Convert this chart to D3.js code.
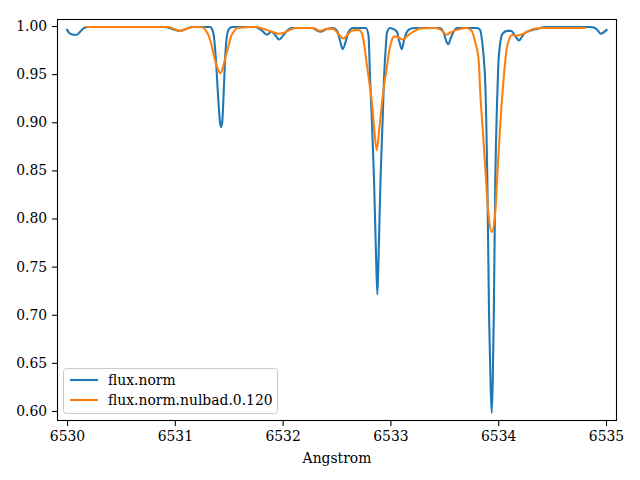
<!DOCTYPE html>
<html><head><meta charset="utf-8">
<script src="https://cdn.jsdelivr.net/npm/d3@7"></script>
<style>body{margin:0;background:#fff}svg{display:block}text{font-family:"DejaVu Serif",serif}</style>
</head><body><svg id="c" width="640" height="480"></svg>
<script>
const seriesNames = ["flux.norm", "flux.norm.nulbad.0.120"];
const xTicks = [6530, 6531, 6532, 6533, 6534, 6535];
const yTicks = [0.60, 0.65, 0.70, 0.75, 0.80, 0.85, 0.90, 0.95, 1.00];
const xLabel = "Angstrom";

const blueWave = [6530.000,6530.028,6530.056,6530.093,6530.121,6530.158,6530.195,6530.306,6530.584,6530.909,6530.974,6531.048,6531.104,6531.160,6531.327,6531.345,6531.364,6531.383,6531.401,6531.420,6531.429,6531.439,6531.453,6531.466,6531.484,6531.503,6531.531,6531.744,6531.800,6531.855,6531.897,6531.929,6531.967,6532.004,6532.041,6532.078,6532.273,6532.347,6532.412,6532.468,6532.505,6532.532,6532.557,6532.583,6532.611,6532.653,6532.773,6532.797,6532.811,6532.829,6532.848,6532.867,6532.879,6532.890,6532.908,6532.927,6532.941,6532.955,6532.968,6532.996,6533.024,6533.061,6533.085,6533.105,6533.126,6533.149,6533.182,6533.228,6533.460,6533.497,6533.516,6533.537,6533.558,6533.581,6533.618,6533.804,6533.832,6533.850,6533.869,6533.878,6533.899,6533.915,6533.929,6533.940,6533.949,6533.959,6533.973,6533.989,6534.001,6534.017,6534.032,6534.049,6534.082,6534.119,6534.156,6534.193,6534.221,6534.249,6534.295,6534.360,6534.434,6534.852,6534.898,6534.926,6534.951,6534.972,6535.006];
const blueFlux = [0.996,0.992,0.991,0.991,0.994,0.998,0.999,0.999,0.999,0.999,0.997,0.995,0.997,0.999,0.999,0.997,0.988,0.962,0.928,0.899,0.895,0.899,0.930,0.965,0.990,0.997,0.999,0.999,0.996,0.991,0.994,0.991,0.986,0.990,0.995,0.998,0.998,0.994,0.997,0.998,0.995,0.985,0.976,0.983,0.994,0.998,0.998,0.990,0.946,0.900,0.840,0.760,0.721,0.760,0.840,0.900,0.946,0.975,0.993,0.998,0.997,0.994,0.983,0.976,0.985,0.993,0.997,0.998,0.998,0.992,0.985,0.981,0.987,0.993,0.998,0.998,0.996,0.985,0.962,0.946,0.840,0.700,0.630,0.598,0.630,0.700,0.840,0.920,0.960,0.981,0.990,0.993,0.995,0.995,0.990,0.985,0.989,0.993,0.995,0.997,0.999,0.999,0.998,0.995,0.992,0.993,0.996];

const orangeWave = [6530.186,6530.492,6530.937,6530.993,6531.048,6531.104,6531.178,6531.234,6531.268,6531.289,6531.314,6531.336,6531.361,6531.387,6531.422,6531.447,6531.468,6531.500,6531.521,6531.546,6531.577,6531.753,6531.852,6531.902,6531.957,6532.013,6532.069,6532.124,6532.282,6532.347,6532.412,6532.468,6532.514,6532.563,6532.602,6532.641,6532.702,6532.734,6532.755,6532.780,6532.804,6532.828,6532.848,6532.873,6532.894,6532.920,6532.941,6532.966,6532.987,6533.012,6533.033,6533.061,6533.089,6533.120,6533.149,6533.182,6533.228,6533.275,6533.414,6533.469,6533.522,6533.553,6533.615,6533.707,6533.754,6533.785,6533.819,6533.834,6533.858,6533.878,6533.909,6533.940,6533.971,6533.994,6534.017,6534.048,6534.080,6534.101,6534.126,6534.172,6534.233,6534.325,6534.418,6534.805];
const orangeFlux = [0.999,0.999,0.999,0.997,0.995,0.997,0.999,0.999,0.998,0.995,0.990,0.982,0.970,0.959,0.951,0.957,0.967,0.980,0.989,0.994,0.998,0.999,0.996,0.994,0.992,0.993,0.996,0.998,0.998,0.995,0.997,0.997,0.992,0.987,0.991,0.995,0.996,0.993,0.982,0.961,0.942,0.921,0.895,0.871,0.890,0.918,0.938,0.956,0.973,0.985,0.989,0.989,0.987,0.986,0.989,0.992,0.995,0.9975,0.998,0.996,0.991,0.993,0.996,0.998,0.995,0.984,0.964,0.930,0.890,0.856,0.805,0.786,0.804,0.850,0.894,0.942,0.977,0.986,0.9905,0.990,0.992,0.997,0.998,0.998];

const colors = ["#1f77b4", "#ff7f0e"];
const M = {left: 57, right: 617, top: 19, bottom: 421};
const svg = d3.select("#c");
const x = d3.scaleLinear().domain([6529.907, 6535.102]).range([M.left, M.right]);
const y = d3.scaleLinear().domain([0.5896, 1.0073]).range([M.bottom, M.top]);

const series = [
  blueWave.map((w, i) => [w, blueFlux[i]]),
  orangeWave.map((w, i) => [w, orangeFlux[i]])
];
const line = d3.line().x(d => x(d[0])).y(d => y(d[1])).curve(d3.curveMonotoneX);

const clip = svg.append("clipPath").attr("id", "clip").append("rect")
  .attr("x", M.left).attr("y", M.top).attr("width", M.right - M.left).attr("height", M.bottom - M.top);
const g = svg.append("g").attr("clip-path", "url(#clip)");
series.forEach((s, i) => {
  g.append("path").datum(s).attr("d", line).attr("fill", "none")
    .attr("stroke", colors[i]).attr("stroke-width", 2.08).attr("stroke-linejoin", "round").attr("stroke-linecap", "square");
});

const fs = "13.9px";
const xa = svg.append("g").attr("transform", `translate(0,${M.bottom})`)
  .call(d3.axisBottom(x).tickValues(xTicks).tickFormat(d3.format("d")).tickSizeOuter(0).tickSize(4.9).tickPadding(4.9));
const ya = svg.append("g").attr("transform", `translate(${M.left},0)`)
  .call(d3.axisLeft(y).tickValues(yTicks).tickFormat(d3.format(".2f")).tickSizeOuter(0).tickSize(4.9).tickPadding(4.9));
[xa, ya].forEach(a => {
  a.select(".domain").remove();
  a.selectAll("line").attr("stroke", "#000").attr("stroke-width", 1.1);
  a.selectAll("text").attr("font-family", "DejaVu Serif").attr("font-size", fs).attr("fill", "#000");
});

svg.append("rect").attr("x", M.left + 0.5).attr("y", M.top + 0.5)
  .attr("width", M.right - M.left - 1).attr("height", M.bottom - M.top - 1)
  .attr("fill", "none").attr("stroke", "#000").attr("stroke-width", 1.1);

svg.append("text").attr("x", (M.left + M.right) / 2).attr("y", 463)
  .attr("text-anchor", "middle").attr("font-size", fs).attr("fill", "#000").text(xLabel);

// legend
const lg = svg.append("g");
lg.append("rect").attr("x", 63.5).attr("y", 368.5).attr("width", 214).attr("height", 45)
  .attr("rx", 3).attr("fill", "#fff").attr("fill-opacity", 0.8).attr("stroke", "#cccccc").attr("stroke-width", 1);
seriesNames.forEach((n, i) => {
  const yy = 380 + i * 20;
  lg.append("line").attr("x1", 70).attr("x2", 98).attr("y1", yy).attr("y2", yy)
    .attr("stroke", colors[i]).attr("stroke-width", 2.08);
  lg.append("text").attr("x", 108).attr("y", yy).attr("dy", "0.35em")
    .attr("font-size", fs).attr("fill", "#000").text(n);
});
</script></body></html>
